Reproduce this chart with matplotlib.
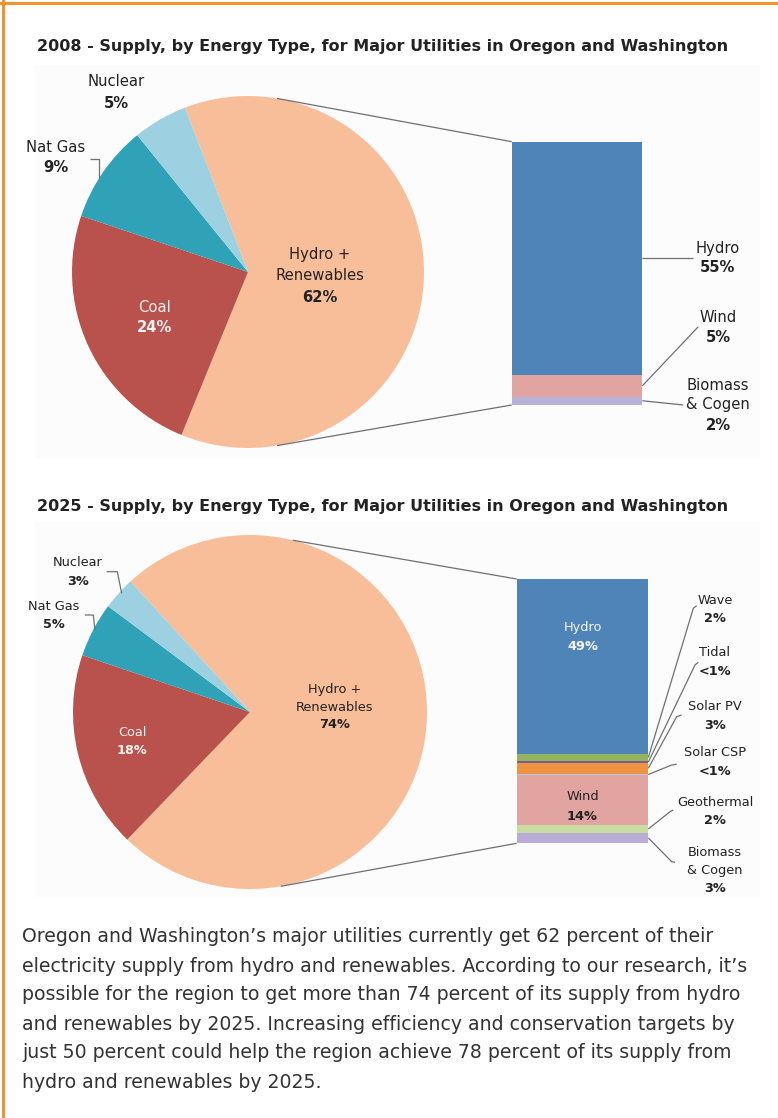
import numpy as np
import matplotlib
matplotlib.use("Agg")
import matplotlib.pyplot as plt
from matplotlib.patches import Rectangle

W, H = 778, 1118

# ---- data ----
title08 = "2008 - Supply, by Energy Type, for Major Utilities in Oregon and Washington"
title25 = "2025 - Supply, by Energy Type, for Major Utilities in Oregon and Washington"

pie_names = ["Hydro +\nRenewables", "Coal", "Nat Gas", "Nuclear"]
pie08_values = [62, 24, 9, 5]
pie25_values = [74, 18, 5, 3]

bar08_names = ["Hydro", "Wind", "Biomass\n& Cogen"]
bar08_values = [55, 5, 2]
bar08_text = ["55%", "5%", "2%"]

bar25_names = ["Hydro", "Wave", "Tidal", "Solar PV", "Solar CSP", "Wind",
               "Geothermal", "Biomass\n& Cogen"]
bar25_values = [49, 2, 0.5, 3, 0.5, 14, 2, 3]
bar25_text = ["49%", "2%", "<1%", "3%", "<1%", "14%", "2%", "3%"]

body_lines = [
    "Oregon and Washington\u2019s major utilities currently get 62 percent of their",
    "electricity supply from hydro and renewables. According to our research, it\u2019s",
    "possible for the region to get more than 74 percent of its supply from hydro",
    "and renewables by 2025. Increasing efficiency and conservation targets by",
    "just 50 percent could help the region achieve 78 percent of its supply from",
    "hydro and renewables by 2025.",
]

# ---- styles ----
pie_colors = ["#F8BE99", "#B9524D", "#2FA2B8", "#9DD0E1"]
bar08_colors = ["#4E84B8", "#E2A4A1", "#B7B2DA"]
bar25_colors = ["#4E84B8", "#93B45E", "#7E5B8F", "#EE9440", "#A5CDE3",
                "#E2A4A1", "#C9DDA2", "#B9ACD6"]
orange = "#F5922B"
line_c = "#707070"
txt_c = "#222222"

plt.rcParams['font.family'] = ['DejaVu Sans']

fig = plt.figure(figsize=(W / 100, H / 100), dpi=100)
ax = fig.add_axes([0, 0, 1, 1])
renderer = fig.canvas.get_renderer()


def Y(v):
    return H - v


def fit_size(s, width_px, **kw):
    t = ax.text(0, 0, s, fontsize=10, **kw)
    w = t.get_window_extent(renderer).width
    t.remove()
    return 10 * width_px / w


def draw_pie(values, center, r, start):
    ax.pie(values, colors=pie_colors, startangle=start, counterclock=False,
           center=(center[0], Y(center[1])), radius=r,
           wedgeprops=dict(linewidth=0))


def rim(center, r, ang):
    a = np.deg2rad(ang)
    return center[0] + r * np.cos(a), center[1] - r * np.sin(a)


def draw_bar(values, colors, left, right, bottom_px, scale):
    vals = np.array(values[::-1], dtype=float) * scale
    bottoms = Y(bottom_px) + np.concatenate([[0], np.cumsum(vals)[:-1]])
    ax.bar((left + right) / 2, vals, width=right - left, bottom=bottoms,
           color=colors[::-1], linewidth=0)
    mids = Y(bottoms + vals / 2)[::-1]
    top = Y(bottoms[-1] + vals[-1])
    return mids, top


def label(x, y, name, pct, size, color=txt_c, step=None):
    step = step if step else size * 1.95
    lines = name.split("\n")
    for i, s in enumerate(lines):
        ax.text(x, Y(y + i * step), s, ha="center", va="center",
                fontsize=size, color=color)
    ax.text(x, Y(y + len(lines) * step), pct, ha="center", va="center",
            fontsize=size, color=color, fontweight="bold")


def path(pts):
    xs = [p[0] for p in pts]
    ys = [Y(p[1]) for p in pts]
    ax.plot(xs, ys, color=line_c, lw=0.9, solid_capstyle="butt")


# ---- frame ----
ax.add_patch(Rectangle((35, Y(458)), 725, 393, color="#fcfcfc", lw=0, zorder=0))
ax.add_patch(Rectangle((35, Y(897)), 725, 375, color="#fcfcfc", lw=0, zorder=0))

# ---- titles ----
tsize = fit_size(title08, 688, fontweight="bold")
ax.text(37, Y(46), title08, fontsize=tsize, fontweight="bold", color=txt_c,
        ha="left", va="center")
ax.text(37, Y(507), title25, fontsize=tsize, fontweight="bold", color=txt_c,
        ha="left", va="center")

# ---- 2008 ----
c1, r1 = (248, 272), 176
draw_pie(pie08_values, c1, r1, 111)
bl, br, bb = 511.7, 642.3, 405
mids08, top08 = draw_bar(bar08_values, bar08_colors, bl, br, bb,
                         263.3 / sum(bar08_values))
path([rim(c1, r1, 80.5), (bl, top08)])
path([rim(c1, r1, -80.5), (bl, bb)])

s1 = 10.6
label(320, 255, pie_names[0], f"{pie08_values[0]}%", s1, step=21)
label(155, 307, pie_names[1], f"{pie08_values[1]}%", s1, color="#F8F2F0", step=20)
label(56, 148, pie_names[2], f"{pie08_values[2]}%", s1, step=20)
label(116, 82, pie_names[3], f"{pie08_values[3]}%", s1, step=21)
path([(90, 159.3), (99.3, 159.3), (99.3, 178.3)])

bar08_ends = [[(693, mids08[0])], [(698.3, 326.7)], [(683.3, 405)]]
bar08_pos = [248, 318, 385]
for name, pct, m, ends, ly in zip(bar08_names, bar08_text, mids08, bar08_ends, bar08_pos):
    path([(br, m)] + ends)
    label(718, ly, name, pct, s1, step=20)

# ---- 2025 ----
c2, r2 = (250, 712), 177
draw_pie(pie25_values, c2, r2, 132.5)
bl2, br2, bb2 = 516.7, 648.3, 843.3
mids25, top25 = draw_bar(bar25_values, bar25_colors, bl2, br2, bb2,
                         264.3 / sum(bar25_values))
path([rim(c2, r2, 76), (bl2, top25)])
path([rim(c2, r2, -80), (bl2, bb2)])

s2 = 9.3
label(335, 690, pie_names[0], f"{pie25_values[0]}%", s2, step=17.5)
label(132, 733, pie_names[1], f"{pie25_values[1]}%", s2, color="#F8F2F0", step=17.5)
label(54, 607, pie_names[2], f"{pie25_values[2]}%", s2, step=18)
label(78, 563, pie_names[3], f"{pie25_values[3]}%", s2, step=18.5)
path([(106.7, 571.7), (117.3, 571.7), (121.7, 593.3)])
path([(85, 615), (93.3, 615), (95, 630)])

# labels inside the bar
cx2 = (bl2 + br2) / 2
label(cx2, 628, bar25_names[0], bar25_text[0], s2, color="#F4F6FA", step=19)
label(cx2, 797, bar25_names[5], bar25_text[5], s2, step=19)

# labels on the right
side = {1: (600, [(693.3, 608.3), (696.7, 605.7)]),
        2: (653, [(695, 665), (698.3, 662.3)]),
        3: (707, [(676.7, 716.7), (681.7, 715)]),
        4: (753, [(671.7, 765), (676.7, 764.3)]),
        6: (802, [(670, 811.7), (673.3, 810)]),
        7: (852, [(671.7, 861.7), (675, 862.3)])}
for i, (ly, ends) in side.items():
    path([(br2, mids25[i])] + ends)
    label(715, ly, bar25_names[i], bar25_text[i], s2, step=18.5)

# ---- body text ----
bsize = fit_size(body_lines[1], 724)
for i, line in enumerate(body_lines):
    ax.text(22, Y(937 + i * 29), line, fontsize=bsize, color="#333333",
            ha="left", va="center")

# ---- orange border ----
ax.add_patch(Rectangle((0, Y(5)), W, 3, color=orange, lw=0, zorder=5))
ax.add_patch(Rectangle((2, 0), 3, H, color=orange, lw=0, zorder=5))

ax.set_xlim(0, W)
ax.set_ylim(0, H)
ax.set_aspect("equal")
ax.axis("off")

fig.savefig("out.png", dpi=100, facecolor="white")
